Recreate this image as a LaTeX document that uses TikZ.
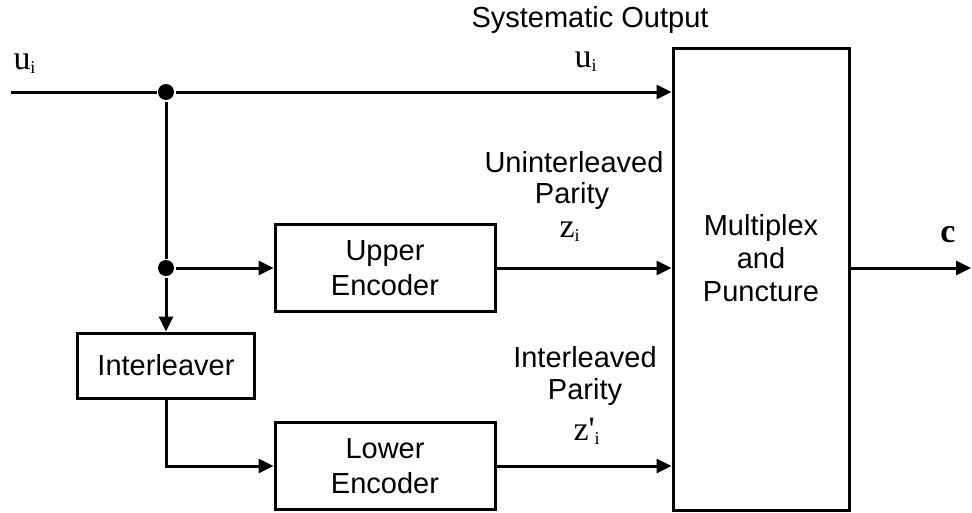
\documentclass[tikz,border=0pt]{standalone}
\usepackage{fontspec}
\setmainfont{Liberation Sans}
\newfontfamily\seriffont{Liberation Serif}
\usetikzlibrary{arrows.meta}
% small lowered index for the signal names
\newcommand\lsub[1]{\raisebox{-4pt}{\fontsize{18}{18}\selectfont #1}}
\begin{document}
\begin{tikzpicture}[x=1pt, y=-1pt, line width=3pt,
  sans/.style={font=\fontsize{29}{33}\selectfont, inner sep=0pt},
  sig/.style={font=\seriffont\fontsize{34}{40}\selectfont, inner sep=0pt},
  block/.style={draw, rectangle, inner sep=0pt, align=center,
                font=\fontsize{29}{35}\selectfont},
  flow/.style={-{Triangle[length=15pt,width=14pt]}},
  junction/.style={circle, fill, inner sep=0pt, minimum size=16pt}]

\useasboundingbox (0,0) rectangle (972,512);

% blocks
\node[block, minimum width=220pt, minimum height=87pt] (upper) at (385,268) {Upper\\Encoder};
\node[block, minimum width=220pt, minimum height=87pt] (lower) at (385,466) {Lower\\Encoder};
\node[block, minimum width=177pt, minimum height=65pt] (intl) at (166,365.5) {Interleaver};
\node[block, minimum width=176pt, minimum height=462pt] (mux) at (761,279) {};
\node[sans, align=center] (muxtext) at (761,258.5) {Multiplex\\and\\Puncture};

% labels
\node[sans, anchor=base] (sysout) at (590,27) {Systematic Output};
\node[sig, anchor=base west] (uin) at (12,69) {u\lsub{i}};
\node[sig, anchor=base west] (usys) at (573,67) {u\lsub{i}};
\node[sans, anchor=base] (unint) at (574,172) {Uninterleaved};
\node[sans, anchor=base] (par1) at (572,203) {Parity};
\node[sig, anchor=base west] (zi) at (558,237) {z\lsub{i}};
\node[sans, anchor=base] (intlab) at (585,367) {Interleaved};
\node[sans, anchor=base] (par2) at (585,399) {Parity};
\node[sig, anchor=base west] (zpi) at (572,440) {z\textquotesingle\lsub{i}};
\node[sig, anchor=base, font=\seriffont\bfseries\fontsize{34}{40}\selectfont] (cout) at (948,242) {c};

% junctions and connectors
\coordinate (src) at (11,92);
\node[junction] (j1) at (166,92) {};
\node[junction] (j2) at (166,268) {};
\coordinate (out) at (971,268);

\draw (src) -- (j1);
\draw[flow] (j1) -- (mux.west |- j1);
\draw (j1) -- (j2);
\draw[flow] (j2) -- (intl.north);
\draw[flow] (j2) -- (upper.west);
\draw[flow] (upper.east) -- (mux.west |- upper.east);
\draw[flow] (intl.south) |- (lower.west);
\draw[flow] (lower.east) -- (mux.west |- lower.east);
\draw[flow] (mux.east |- j2) -- (out);
\end{tikzpicture}
\end{document}
